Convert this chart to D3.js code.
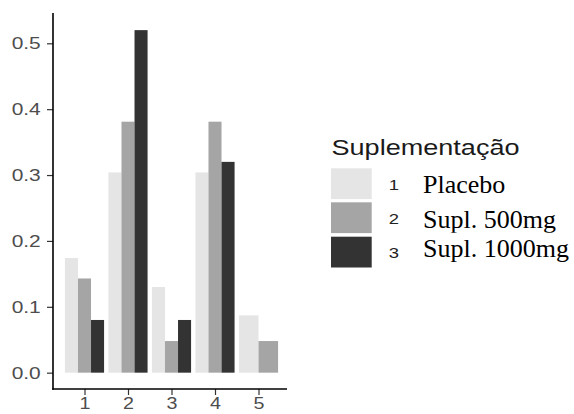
<!DOCTYPE html>
<html>
<head>
<meta charset="utf-8">
<script src="https://cdn.jsdelivr.net/npm/d3@7"></script>
<style>
  html, body { margin: 0; padding: 0; background: #fff; }
  svg { display: block; }
</style>
</head>
<body>
<svg id="chart" width="574" height="414"></svg>
<script>
// Proportions by score (1-5) for each supplementation group
const categories = ["1", "2", "3", "4", "5"];
const groupCodes = ["1", "2", "3"];
const groupNames = ["Placebo", "Supl. 500mg", "Supl. 1000mg"];
const placebo  = [0.174, 0.304, 0.130, 0.304, 0.087];
const supl500  = [0.143, 0.381, 0.048, 0.381, 0.048];
const supl1000 = [0.080, 0.520, 0.080, 0.320, null];
const yTicks = [0, 0.1, 0.2, 0.3, 0.4, 0.5];
const legendTitle = "Suplementação";

const seriesValues = [placebo, supl500, supl1000];
const fills = ["#e5e5e5", "#a5a5a5", "#333333"];

const svg = d3.select("#chart");
const sx = 1.23; // horizontal stretch of the sans-serif text
const sans = "Liberation Sans, Arial, sans-serif";

// panel geometry
const panel = { left: 53, right: 287, top: 13, bottom: 389.8 };

const x = d3.scalePoint()
  .domain(categories)
  .range([58.4, 284.6])
  .padding(0.6);
const step = x.step();
const groupWidth = step * 0.9;

const y = d3.scaleLinear()
  .domain([-0.026, 0.546])
  .range([panel.bottom, panel.top]);

// bars, dodged within each category (missing series leave wider bars)
const bars = [];
categories.forEach((c, ci) => {
  const present = seriesValues
    .map((vals, si) => ({ si, v: vals[ci] }))
    .filter(d => d.v !== null);
  const w = groupWidth / present.length;
  present.forEach((d, k) => {
    bars.push({ cat: c, si: d.si, v: d.v, x0: x(c) - groupWidth / 2 + k * w, w });
  });
});

svg.append("g")
  .selectAll("rect")
  .data(bars)
  .join("rect")
  .attr("x", d => d.x0)
  .attr("width", d => d.w)
  .attr("y", d => y(d.v))
  .attr("height", d => y(0) - y(d.v))
  .attr("fill", d => fills[d.si]);

// y axis
const yAxis = svg.append("g")
  .attr("transform", `translate(${panel.left},0)`)
  .call(d3.axisLeft(y).tickValues(yTicks).tickFormat(d3.format(".1f"))
    .tickSize(6).tickPadding(4));
yAxis.select(".domain").remove();
yAxis.selectAll(".tick line").attr("stroke", "#333").attr("stroke-width", 1.2);
yAxis.selectAll(".tick text")
  .attr("fill", "#4d4d4d")
  .style("font-family", sans)
  .style("font-size", "17px")
  .attr("transform", `scale(${sx},1)`);

// x axis
const xAxis = svg.append("g")
  .attr("transform", `translate(0,${panel.bottom - 0.8})`)
  .call(d3.axisBottom(x).tickSize(6).tickPadding(3));
xAxis.select(".domain").remove();
xAxis.selectAll(".tick line").attr("stroke", "#333").attr("stroke-width", 1.2);
xAxis.selectAll(".tick text")
  .attr("fill", "#4d4d4d")
  .style("font-family", sans)
  .style("font-size", "16px")
  .attr("transform", `scale(${sx},1)`);

// axis lines
svg.append("line")
  .attr("x1", panel.left).attr("x2", panel.left)
  .attr("y1", panel.top).attr("y2", panel.bottom)
  .attr("stroke", "#000").attr("stroke-width", 1.6);
svg.append("line")
  .attr("x1", panel.left - 0.8).attr("x2", panel.right)
  .attr("y1", panel.bottom - 0.8).attr("y2", panel.bottom - 0.8)
  .attr("stroke", "#000").attr("stroke-width", 1.6);

// legend
const legend = svg.append("g");
legend.append("text")
  .attr("transform", `translate(331.5,155) scale(${sx},1)`)
  .style("font-family", sans)
  .style("font-size", "22px")
  .attr("fill", "#1a1a1a")
  .text(legendTitle);

const keyTops = [168.3, 202.3, 236.7];
const keyH = 30.8;
const labelBase = [193.3, 228.3, 256.7];

svg.append("defs").append("clipPath").attr("id", "label-clip")
  .append("rect").attr("x", 400).attr("y", 0).attr("width", 174).attr("height", 232.7);

groupCodes.forEach((code, i) => {
  legend.append("rect")
    .attr("x", 331).attr("y", keyTops[i])
    .attr("width", 40.7).attr("height", keyH)
    .attr("fill", fills[i]);
  legend.append("text")
    .attr("transform", `translate(393.8,${keyTops[i] + keyH / 2 + 6}) scale(${sx},1)`)
    .attr("text-anchor", "middle")
    .style("font-family", sans)
    .style("font-size", "15px")
    .attr("fill", "#222")
    .text(code);
  legend.append("text")
    .attr("x", 423).attr("y", labelBase[i])
    .attr("clip-path", i === 1 ? "url(#label-clip)" : null)
    .style("font-family", "Liberation Serif, 'Times New Roman', serif")
    .style("font-size", "26px")
    .attr("fill", "#000")
    .text(groupNames[i]);
});
</script>
</body>
</html>
